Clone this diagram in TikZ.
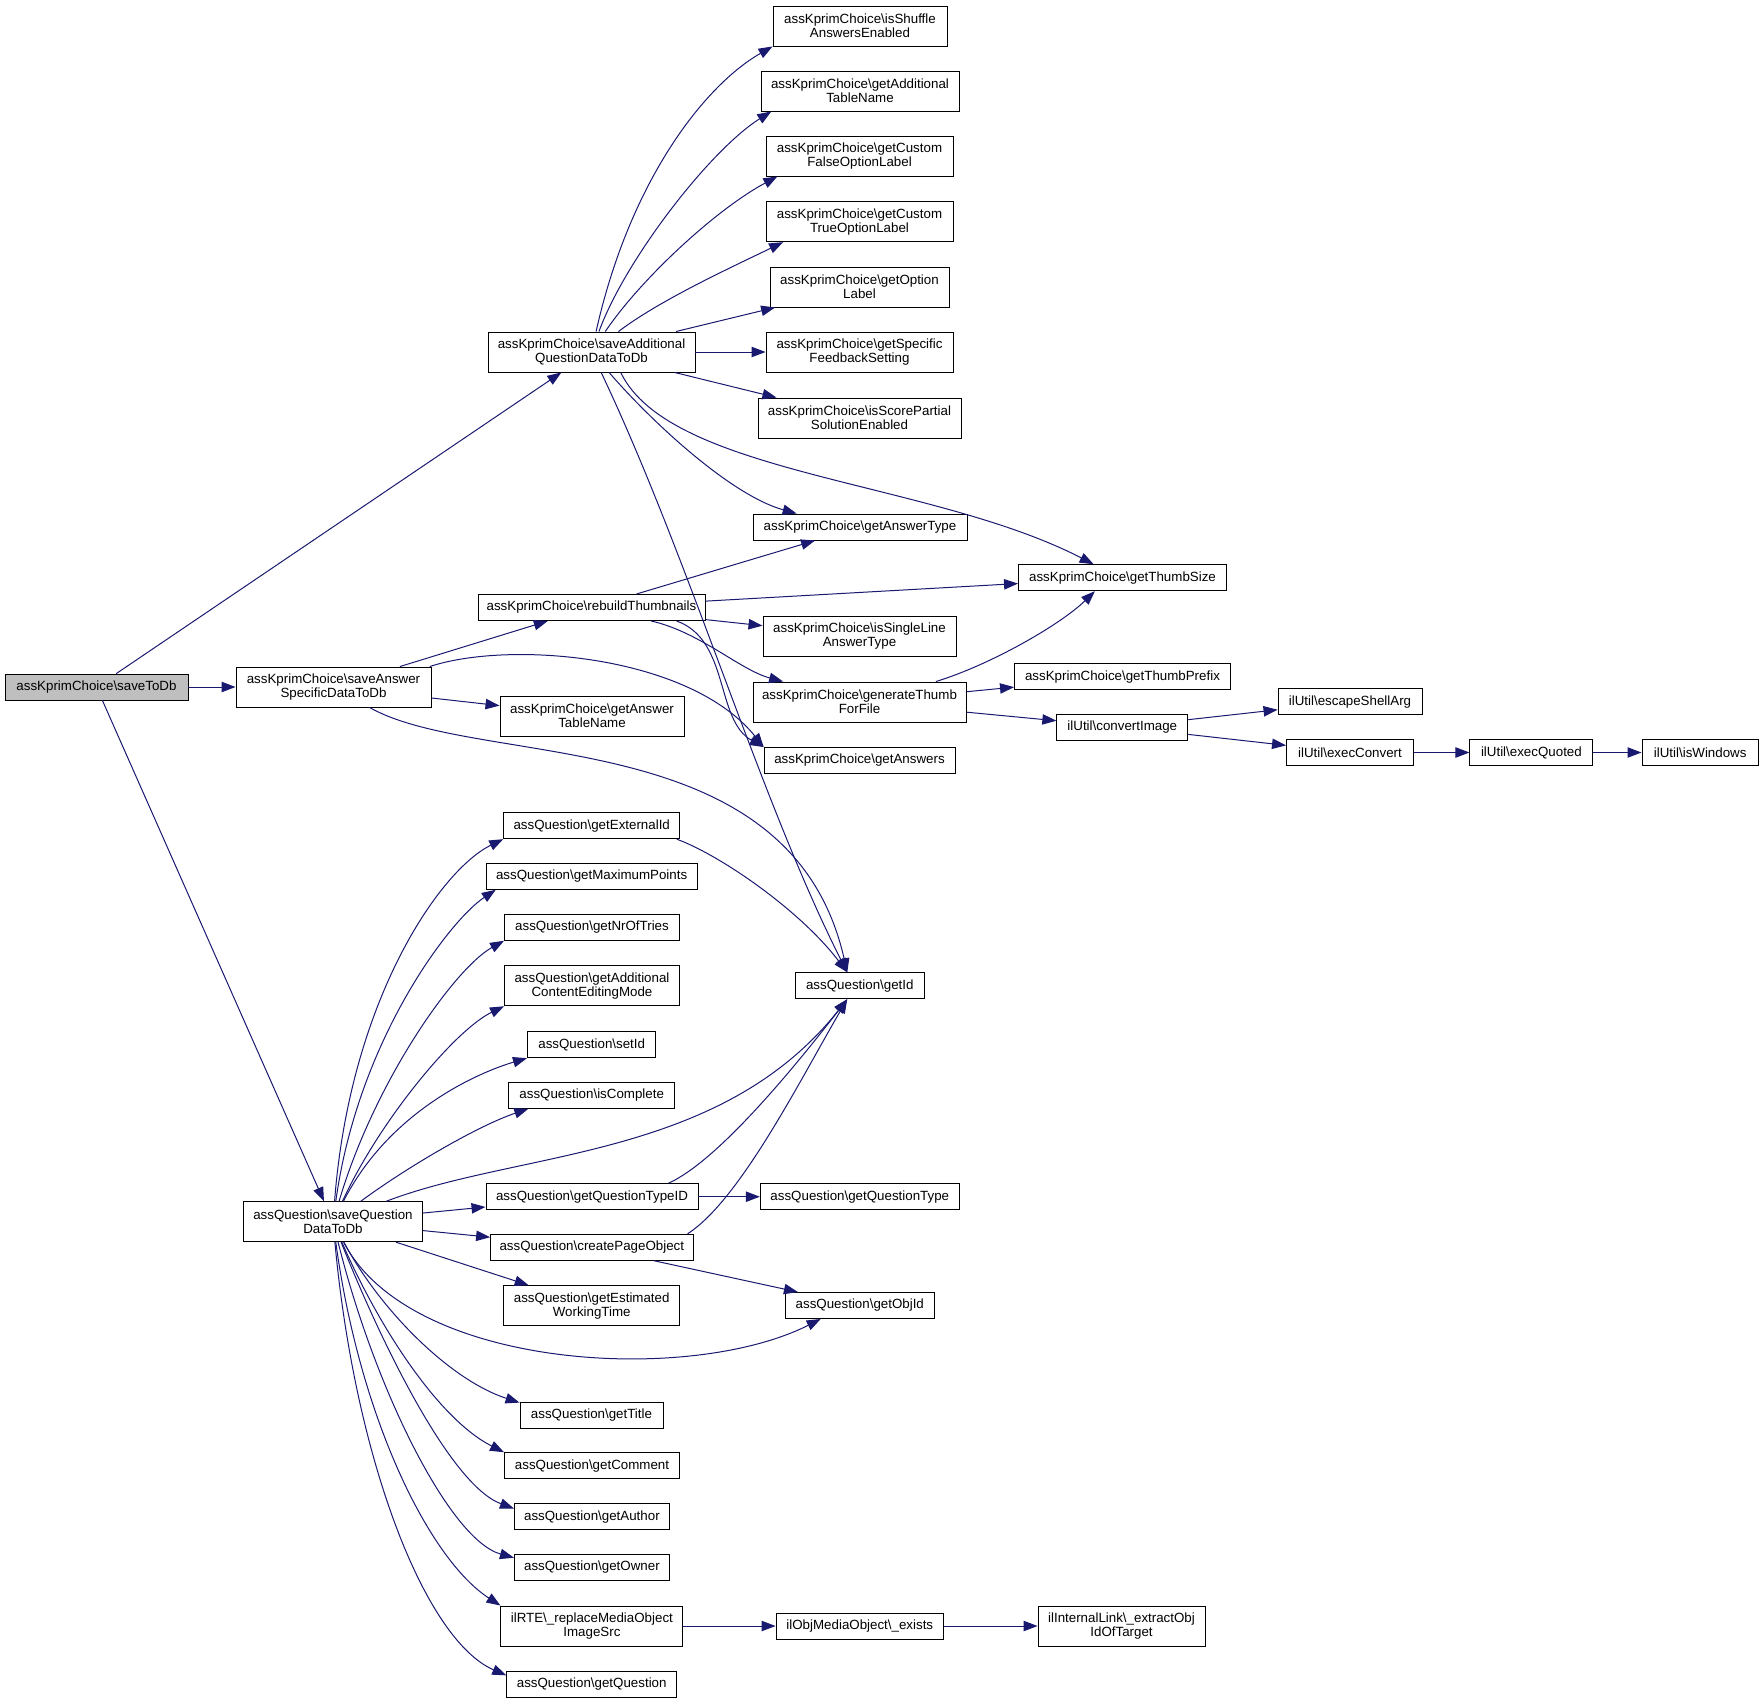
\documentclass[tikz,border=0pt]{standalone}
\usepackage{fontspec}
\setmainfont{Liberation Sans}
\usetikzlibrary{arrows.meta}

\definecolor{edgeblue}{RGB}{25,25,112}
\definecolor{rootgray}{RGB}{191,191,191}
\newcommand{\bsl}{\textbackslash}

\tikzset{
	fn/.style={draw=black, fill=white, line width=0.7pt, inner sep=0pt, minimum height=19.5pt,
		align=center, font=\fontsize{10}{10.7}\selectfont},
	fntwo/.style={fn, minimum height=30pt},
	wd/.style={minimum width={#1*0.75pt}},
	call/.style={draw=edgeblue, line width=0.75pt, -{Triangle[length=10.5pt, width=7.8pt]}}
}

\begin{document}
\begin{tikzpicture}[x=0.75pt, y=-0.75pt]
		\useasboundingbox (0, 0) rectangle (1760, 1703);

		% root and first level
		\node[fn, wd=183, fill=rootgray] (saveToDb) at (96.5, 687) {assKprimChoice\bsl saveToDb};
		\node[fntwo, wd=195] (saveAnsSpec) at (333.5, 687) {assKprimChoice\bsl saveAnswer\\SpecificDataToDb};
		\node[fntwo, wd=179] (saveQData) at (333, 1221.7) {assQuestion\bsl saveQuestion\\DataToDb};

		% second column
		\node[fntwo, wd=207] (saveAddQData) at (591.5, 352) {assKprimChoice\bsl saveAdditional\\QuestionDataToDb};
		\node[fn, wd=227] (rebuildThumbs) at (591.5, 607.5) {assKprimChoice\bsl rebuildThumbnails};
		\node[fntwo, wd=184] (getAnsTable) at (592, 716) {assKprimChoice\bsl getAnswer\\TableName};
		\node[fn, wd=176] (getExtId) at (591.7, 825.7) {assQuestion\bsl getExternalId};
		\node[fn, wd=211] (getMaxPts) at (591.6, 876.3) {assQuestion\bsl getMaximumPoints};
		\node[fn, wd=175] (getNrOfTries) at (592, 927.3) {assQuestion\bsl getNrOfTries};
		\node[fntwo, wd=175] (getAddContent) at (592, 985.8) {assQuestion\bsl getAdditional\\ContentEditingMode};
		\node[fn, wd=128.5] (setId) at (591.7, 1044.7) {assQuestion\bsl setId};
		\node[fn, wd=165.5] (isComplete) at (591.7, 1095.3) {assQuestion\bsl isComplete};
		\node[fn, wd=212] (getQTypeID) at (592, 1196.7) {assQuestion\bsl getQuestionTypeID};
		\node[fn, wd=202.4] (createPageObj) at (591.8, 1247.2) {assQuestion\bsl createPageObject};
		\node[fntwo, wd=176] (getEstTime) at (591.7, 1305.7) {assQuestion\bsl getEstimated\\WorkingTime};
		\node[fn, wd=143] (getTitle) at (591.5, 1415.3) {assQuestion\bsl getTitle};
		\node[fn, wd=175] (getComment) at (592, 1465.7) {assQuestion\bsl getComment};
		\node[fn, wd=155] (getAuthor) at (591.9, 1516.7) {assQuestion\bsl getAuthor};
		\node[fn, wd=155] (getOwner) at (591.9, 1567.3) {assQuestion\bsl getOwner};
		\node[fntwo, wd=182] (replaceMedia) at (591.9, 1626) {ilRTE\bsl\_replaceMediaObject\\ImageSrc};
		\node[fn, wd=170] (getQuestion) at (591.7, 1684.3) {assQuestion\bsl getQuestion};

		% third column
		\node[fntwo, wd=174] (isShuffle) at (860, 26) {assKprimChoice\bsl isShuffle\\AnswersEnabled};
		\node[fntwo, wd=198] (getAddTable) at (860, 91) {assKprimChoice\bsl getAdditional\\TableName};
		\node[fntwo, wd=187] (getCustFalse) at (859.5, 156) {assKprimChoice\bsl getCustom\\FalseOptionLabel};
		\node[fntwo, wd=187] (getCustTrue) at (859.5, 221.7) {assKprimChoice\bsl getCustom\\TrueOptionLabel};
		\node[fntwo, wd=179] (getOptLabel) at (859.5, 287) {assKprimChoice\bsl getOption\\Label};
		\node[fntwo, wd=187] (getSpecFb) at (859.5, 352) {assKprimChoice\bsl getSpecific\\FeedbackSetting};
		\node[fntwo, wd=203] (isScorePartial) at (859.5, 418) {assKprimChoice\bsl isScorePartial\\SolutionEnabled};
		\node[fn, wd=214] (getAnsType) at (860, 527) {assKprimChoice\bsl getAnswerType};
		\node[fntwo, wd=193] (isSingleLine) at (859.5, 636) {assKprimChoice\bsl isSingleLine\\AnswerType};
		\node[fntwo, wd=213] (genThumb) at (859.5, 702) {assKprimChoice\bsl generateThumb\\ForFile};
		\node[fn, wd=191] (getAnswers) at (859.5, 760.5) {assKprimChoice\bsl getAnswers};
		\node[fn, wd=129] (getId) at (859.8, 985.8) {assQuestion\bsl getId};
		\node[fn, wd=199] (getQType) at (859.8, 1196.7) {assQuestion\bsl getQuestionType};
		\node[fn, wd=149] (getObjId) at (859.8, 1305.5) {assQuestion\bsl getObjId};
		\node[fn, wd=167.5] (mediaExists) at (859.8, 1626) {ilObjMediaObject\bsl\_exists};

		% right part
		\node[fn, wd=208] (getThumbSize) at (1122.5, 577.7) {assKprimChoice\bsl getThumbSize};
		\node[fn, wd=216] (getThumbPrefix) at (1122.5, 676.7) {assKprimChoice\bsl getThumbPrefix};
		\node[fn, wd=131] (convertImage) at (1122.3, 727) {ilUtil\bsl convertImage};
		\node[fntwo, wd=167] (extractObj) at (1121.5, 1626) {ilInternalLink\bsl\_extractObj\\IdOfTarget};
		\node[fn, wd=144] (escapeShellArg) at (1350, 701.7) {ilUtil\bsl escapeShellArg};
		\node[fn, wd=127] (execConvert) at (1350, 752.5) {ilUtil\bsl execConvert};
		\node[fn, wd=123] (execQuoted) at (1531.4, 752.5) {ilUtil\bsl execQuoted};
		\node[fn, wd=116.5] (isWindows) at (1700.2, 752.5) {ilUtil\bsl isWindows};

		% calls
		\draw[call] (saveToDb) -- (saveAddQData);
		\draw[call] (saveToDb) -- (saveAnsSpec);
		\draw[call] (saveToDb) -- (saveQData);

		\draw[call] (saveAddQData) .. controls (630, 180) and (705, 85) .. (isShuffle.south west);
		\draw[call] (saveAddQData) .. controls (625, 260) and (710, 150) .. (getAddTable.-167);
		\draw[call] (saveAddQData) .. controls (640, 280) and (715, 210) .. (getCustFalse.-166);
		\draw[call] (saveAddQData) .. controls (660, 300) and (730, 268) .. (getCustTrue.-165);
		\draw[call] (saveAddQData) -- (getOptLabel);
		\draw[call] (saveAddQData) -- (getSpecFb);
		\draw[call] (saveAddQData) -- (isScorePartial);
		\draw[call] (saveAddQData) .. controls (650, 420) and (730, 495) .. (getAnsType.168);
		\draw[call] (saveAddQData.-35) .. controls (670, 475) and (930, 480) .. (getThumbSize.155);
		\draw[call] (saveAddQData) .. controls (690, 560) and (760, 800) .. (getId.133);

		\draw[call] (saveAnsSpec) -- (rebuildThumbs);
		\draw[call] (saveAnsSpec) -- (getAnsTable);
		\draw[call] (saveAnsSpec.12) .. controls (510, 640) and (690, 655) .. (getAnswers.172);
		\draw[call] (saveAnsSpec) .. controls (480, 770) and (790, 720) .. (getId.133);

		\draw[call] (rebuildThumbs) -- (getAnsType);
		\draw[call] (rebuildThumbs) -- (getThumbSize);
		\draw[call] (rebuildThumbs) -- (isSingleLine);
		\draw[call] (rebuildThumbs) .. controls (700, 632) and (740, 670) .. (genThumb.165);
		\draw[call] (rebuildThumbs.-9) .. controls (730, 640) and (715, 720) .. (getAnswers.172);

		\draw[call] (genThumb.15) .. controls (990, 665) and (1060, 625) .. (getThumbSize.-154);
		\draw[call] (genThumb) -- (getThumbPrefix);
		\draw[call] (genThumb) -- (convertImage);
		\draw[call] (convertImage) -- (escapeShellArg);
		\draw[call] (convertImage) -- (execConvert);
		\draw[call] (execConvert) -- (execQuoted);
		\draw[call] (execQuoted) -- (isWindows);

		\draw[call] (saveQData) .. controls (350, 1000) and (440, 870) .. (getExtId.south west);
		\draw[call] (saveQData) .. controls (358, 1040) and (450, 920) .. (getMaxPts.-172);
		\draw[call] (saveQData) .. controls (375, 1080) and (455, 968) .. (getNrOfTries.south west);
		\draw[call] (saveQData) .. controls (380, 1120) and (455, 1030) .. (getAddContent.south west);
		\draw[call] (saveQData) .. controls (390, 1110) and (480, 1072) .. (setId.south west);
		\draw[call] (saveQData) .. controls (410, 1165) and (480, 1125) .. (isComplete.-168);
		\draw[call] (saveQData) .. controls (520, 1150) and (720, 1160) .. (getId.-133);
		\draw[call] (saveQData) -- (getQTypeID);
		\draw[call] (saveQData) -- (createPageObj);
		\draw[call] (saveQData) -- (getEstTime);
		\draw[call] (saveQData) .. controls (410, 1370) and (690, 1385) .. (getObjId.-161);
		\draw[call] (saveQData) .. controls (380, 1310) and (450, 1380) .. (getTitle.170);
		\draw[call] (saveQData) .. controls (380, 1330) and (440, 1420) .. (getComment.north west);
		\draw[call] (saveQData) .. controls (380, 1340) and (450, 1485) .. (getAuthor.174);
		\draw[call] (saveQData) .. controls (375, 1390) and (450, 1540) .. (getOwner.173);
		\draw[call] (saveQData) .. controls (360, 1420) and (430, 1560) .. (replaceMedia.north west);
		\draw[call] (saveQData) .. controls (355, 1460) and (425, 1640) .. (getQuestion.174);

		\draw[call] (getExtId.-9) .. controls (720, 855) and (800, 910) .. (getId.133);
		\draw[call] (getQTypeID.10) .. controls (720, 1160) and (800, 1060) .. (getId.-133);
		\draw[call] (getQTypeID) -- (getQType);
		\draw[call] (createPageObj.8) .. controls (740, 1200) and (800, 1080) .. (getId.-133);
		\draw[call] (createPageObj) -- (getObjId);
		\draw[call] (replaceMedia) -- (mediaExists);
		\draw[call] (mediaExists) -- (extractObj);
	\end{tikzpicture}
\end{document}
